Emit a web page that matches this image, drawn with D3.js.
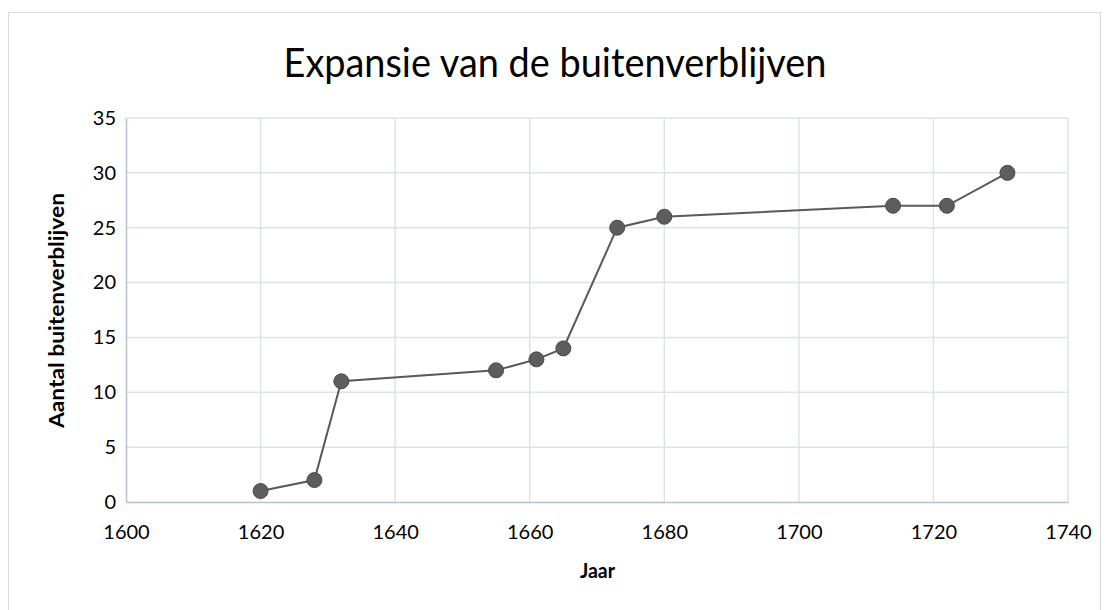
<!DOCTYPE html>
<html>
<head>
<meta charset="utf-8">
<script src="https://cdn.jsdelivr.net/npm/d3@7"></script>
<style>
  html, body { margin: 0; padding: 0; background: #fff; }
  svg { display: block; }
</style>
</head>
<body>
<svg id="chart" width="1109" height="610"></svg>
<script>
const years = [1620, 1628, 1632, 1655, 1661, 1665, 1673, 1680, 1714, 1722, 1731];
const counts = [1, 2, 11, 12, 13, 14, 25, 26, 27, 27, 30];
const xTicks = [1600, 1620, 1640, 1660, 1680, 1700, 1720, 1740];
const yTicks = [0, 5, 10, 15, 20, 25, 30, 35];
const titleText = "Expansie van de buitenverblijven";
const xTitle = "Jaar";
const yTitle = "Aantal buitenverblijven";

const svg = d3.select("#chart");
const m = {left: 126, right: 1068, top: 118, bottom: 502};
const font = "Lato, 'Open Sans', 'Liberation Sans', sans-serif";

svg.append("rect").attr("x", 8.5).attr("y", 12.5).attr("width", 1092).attr("height", 620)
  .attr("fill", "#fff").attr("stroke", "#d9d9d9").attr("stroke-width", 1);

const x = d3.scaleLinear().domain([1600, 1740]).range([m.left, m.right]);
const y = d3.scaleLinear().domain([0, 35]).range([m.bottom, m.top]);

// grid
const g = svg.append("g");
g.selectAll(".vg").data(xTicks.slice(1)).join("line")
  .attr("x1", d => x(d)).attr("x2", d => x(d)).attr("y1", m.top).attr("y2", m.bottom)
  .attr("stroke", "#dde3ec").attr("stroke-width", 1.5);
g.selectAll(".hg").data(yTicks.slice(1)).join("line")
  .attr("x1", m.left).attr("x2", m.right).attr("y1", d => y(d)).attr("y2", d => y(d))
  .attr("stroke", "#dde3ec").attr("stroke-width", 1.5);

// axes
const xAxis = d3.axisBottom(x).tickValues(xTicks).tickSize(0).tickPadding(23).tickFormat(d3.format("d"));
const yAxis = d3.axisLeft(y).tickValues(yTicks).tickSize(0).tickPadding(10);
const gx = svg.append("g").attr("transform", `translate(0,${m.bottom})`).call(xAxis);
const gy = svg.append("g").attr("transform", `translate(${m.left},0)`).call(yAxis);
[gx, gy].forEach(a => {
  a.select(".domain").attr("stroke", "#b4c0d4").attr("stroke-width", 1.5);
  a.selectAll("text").attr("font-family", font).attr("font-size", 20).attr("fill", "#000");
});

// line + markers
const pts = years.map((yr, i) => [yr, counts[i]]);
svg.append("path").datum(pts)
  .attr("d", d3.line().x(d => x(d[0])).y(d => y(d[1])))
  .attr("fill", "none").attr("stroke", "#595959").attr("stroke-width", 2);
svg.selectAll(".pt").data(pts).join("circle")
  .attr("cx", d => x(d[0])).attr("cy", d => y(d[1])).attr("r", 7.5)
  .attr("fill", "#5d5d5d").attr("stroke", "#4a4a4a").attr("stroke-width", 1);

// titles
svg.append("text").attr("x", 555).attr("y", 77).attr("text-anchor", "middle")
  .attr("font-family", font).attr("font-size", 40).attr("font-weight", 400)
  .attr("textLength", 543).attr("lengthAdjust", "spacingAndGlyphs")
  .text(titleText);
svg.append("text").attr("x", 597.5).attr("y", 578).attr("text-anchor", "middle")
  .attr("font-family", font).attr("font-size", 20).attr("font-weight", "bold")
  .attr("textLength", 35).attr("lengthAdjust", "spacingAndGlyphs")
  .text(xTitle);
svg.append("text").attr("transform", "translate(64,310.5) rotate(-90)").attr("text-anchor", "middle")
  .attr("font-family", font).attr("font-size", 20).attr("font-weight", "bold")
  .attr("textLength", 235).attr("lengthAdjust", "spacingAndGlyphs")
  .text(yTitle);
</script>
</body>
</html>
